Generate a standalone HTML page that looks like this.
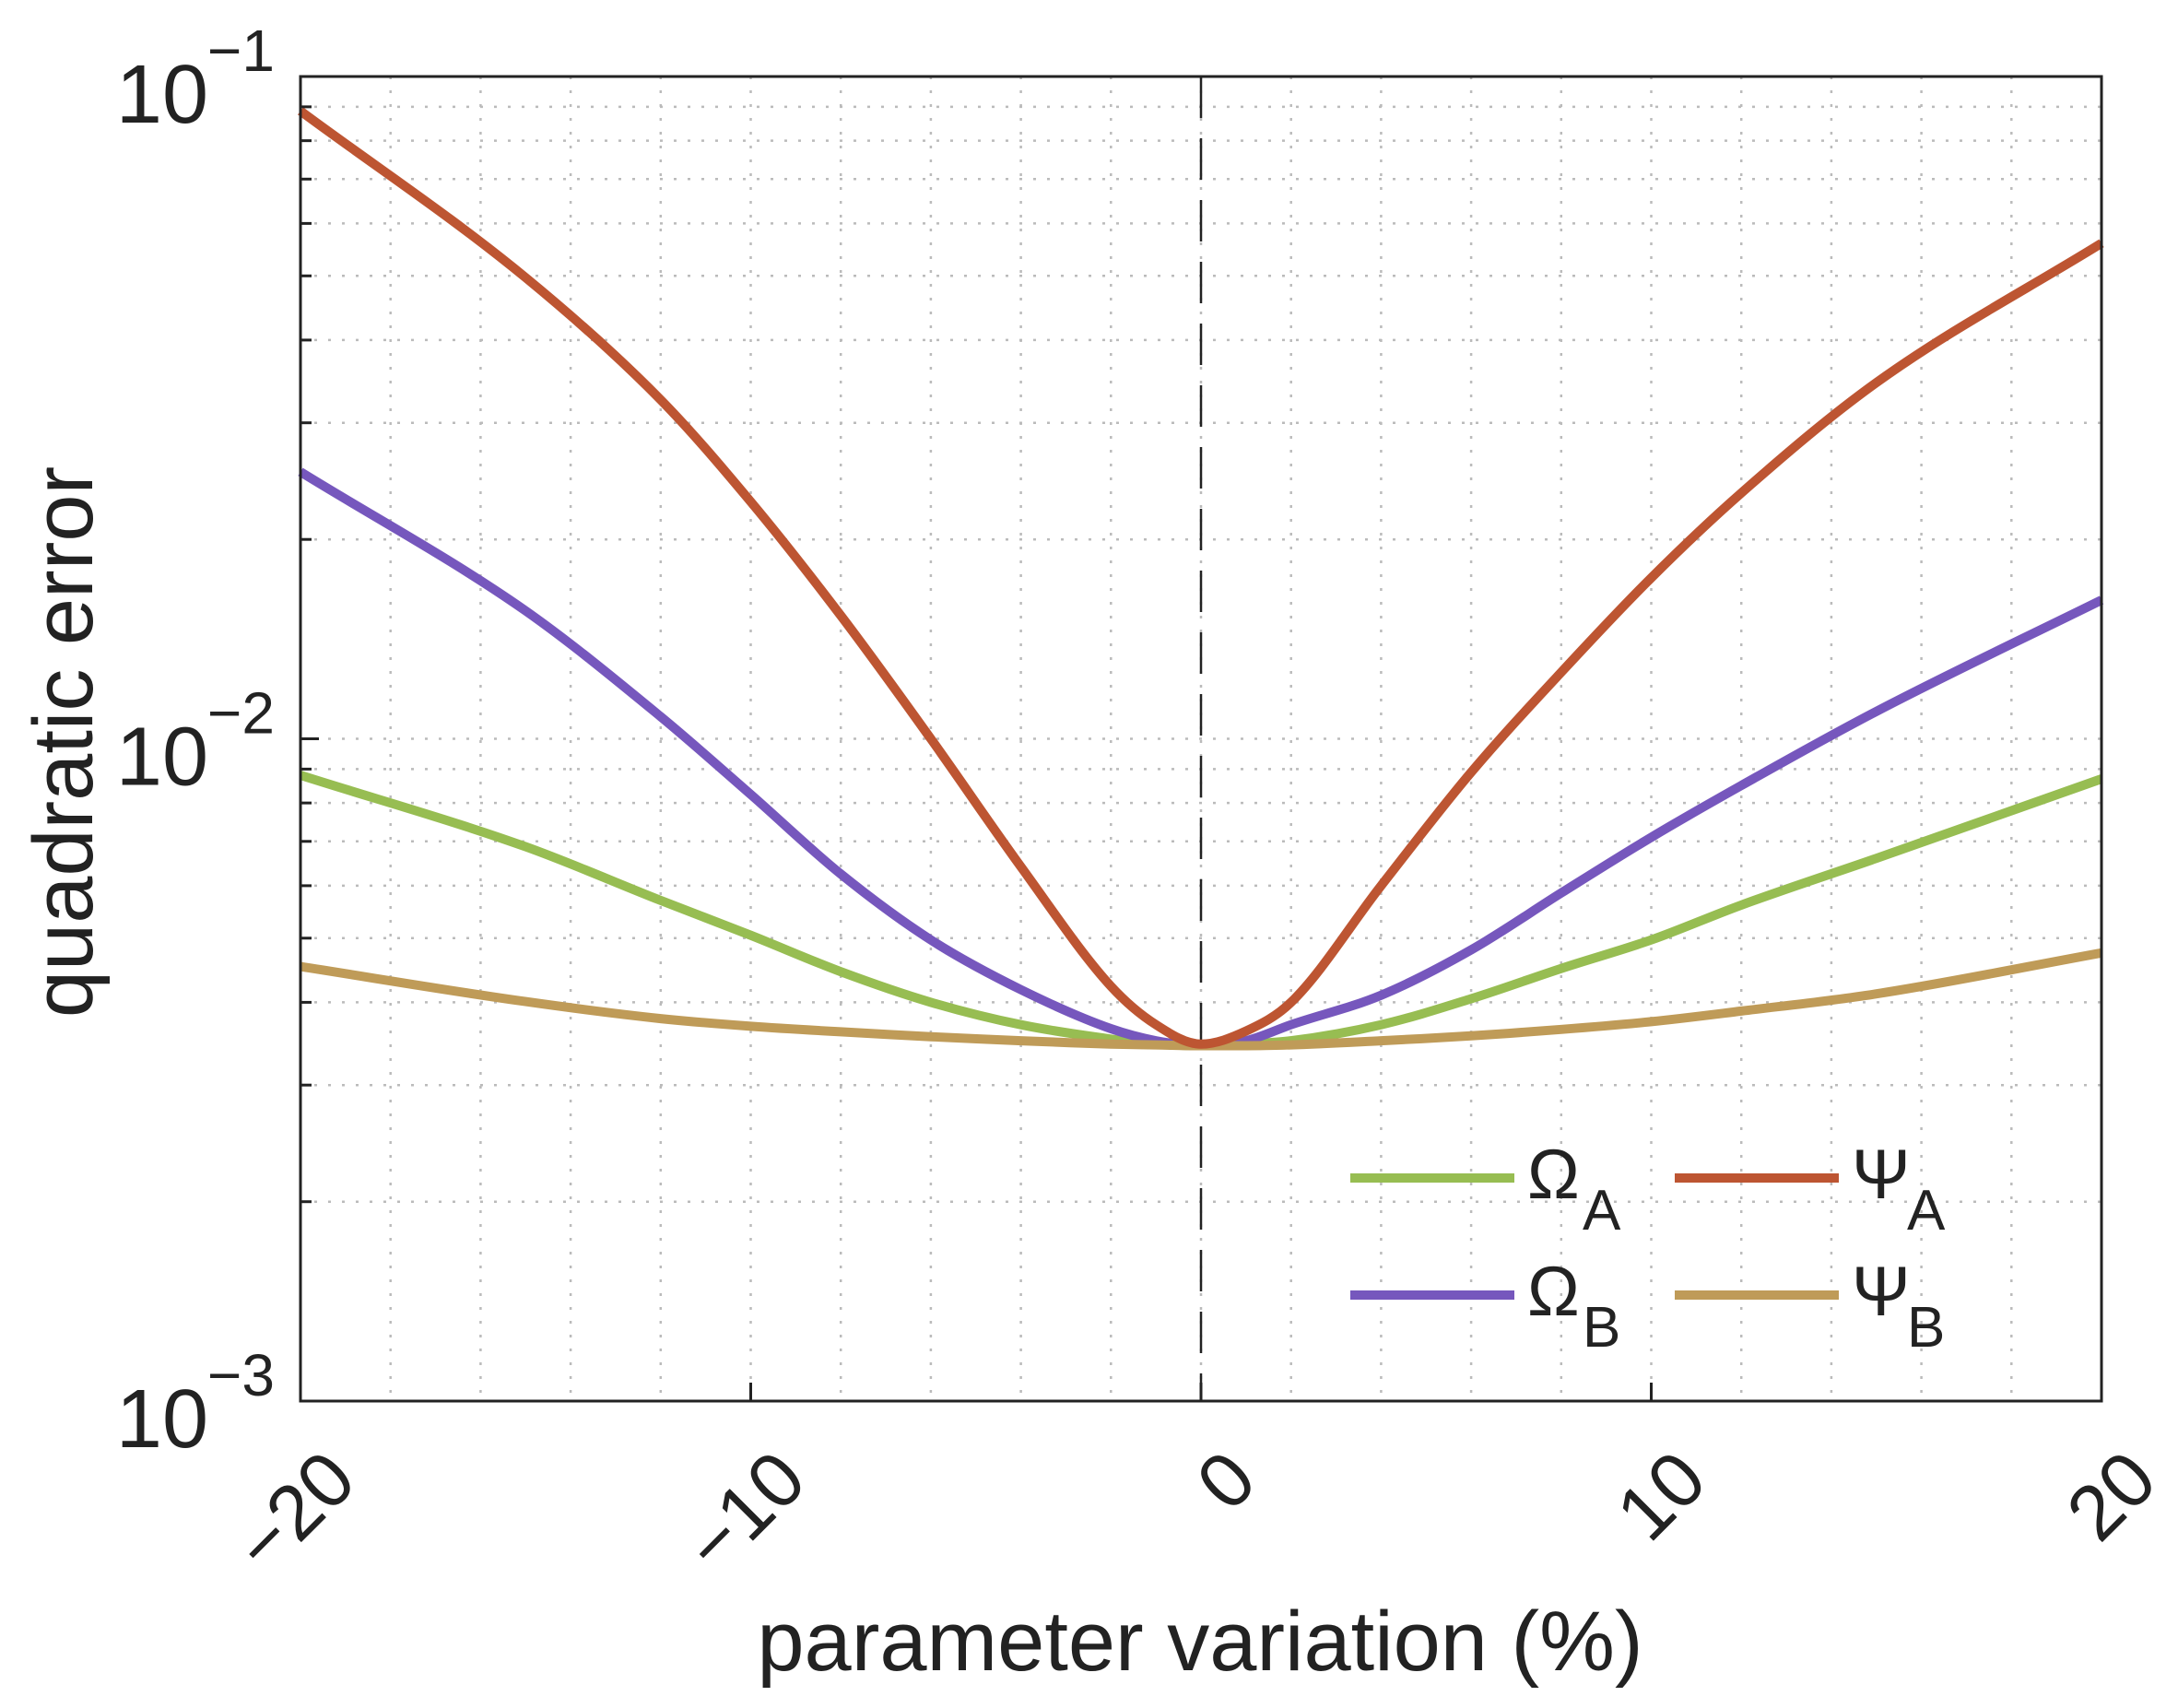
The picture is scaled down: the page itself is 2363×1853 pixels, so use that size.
<!DOCTYPE html>
<html><head><meta charset="utf-8">
<style>
html,body{margin:0;padding:0;background:#fff;}
svg{display:block;font-family:"Liberation Sans",sans-serif;}
</style></head>
<body>
<svg id="chart" width="2363" height="1853" viewBox="0 0 2363 1853" xmlns="http://www.w3.org/2000/svg">
<g id="grid"></g>
<g id="series"></g>
<g id="axes"></g>
<g id="legend"></g>
<text x="1302" y="1812" font-size="92" text-anchor="middle" fill="#222">parameter variation (%)</text>
<text transform="translate(100,805) rotate(-90)" font-size="92" text-anchor="middle" fill="#222">quadratic error</text>
</svg>
<script>
const xValues = [-20,-15,-12,-10,-8,-6,-4,-2,-1,0,1,2,4,6,8,10,12,15,20];
const omegaA = [0.00881,0.00687,0.00570,0.00505,0.00445,0.00400,0.00370,0.00352,0.00346,0.00344,0.00346,0.00350,0.00370,0.00405,0.00450,0.00497,0.00561,0.00660,0.00870];
const omegaB = [0.0253,0.0156,0.0108,0.00824,0.00625,0.00497,0.00418,0.00365,0.00350,0.00344,0.00350,0.00370,0.00410,0.00480,0.00585,0.00710,0.00850,0.01100,0.0162];
const psiA = [0.0887,0.0497,0.0325,0.0228,0.01535,0.0100,0.00641,0.00423,0.00370,0.00346,0.00362,0.00400,0.00600,0.00890,0.01260,0.0175,0.0235,0.0345,0.056];
const psiB = [0.00453,0.00401,0.00378,0.00368,0.00361,0.00355,0.00350,0.00346,0.00345,0.00344,0.00344,0.00345,0.00350,0.00356,0.00364,0.00374,0.00388,0.00412,0.00475];
const xTicks = [-20,-10,0,10,20];
const xTickLabels = ["\u221220","\u221210","0","10","20"];
const yTicks = [-1,-2,-3];

const L=326,R=2280,T=83,B=1520;
const NS="http://www.w3.org/2000/svg";
function xs(v){return L+(v+20)/40*(R-L);}
function ys(v){return T+(-1-Math.log10(v))/2*(B-T);}
function mk(tag,attrs,parent){const e=document.createElementNS(NS,tag);for(const k in attrs)e.setAttribute(k,attrs[k]);parent.appendChild(e);return e;}
const grid=document.getElementById('grid'),axes=document.getElementById('axes'),series=document.getElementById('series'),legend=document.getElementById('legend');

for(let v=-18;v<20;v+=2){
  const g=mk('line',{x1:xs(v),x2:xs(v),y1:T,y2:B,stroke:'#bbb','stroke-width':2.5,'stroke-dasharray':'3 12'},grid);
  
  
}
for(let d=-3;d<=-2;d++){
  for(let m=1;m<=9;m++){
    const v=m*Math.pow(10,d);
    if(v<=0.001) continue;
    const y=ys(v);
    const g=mk('line',{x1:L,x2:R,y1:y,y2:y,stroke:'#bbb','stroke-width':2.5,'stroke-dasharray':'3 12'},grid);
    
    
    const t=mk('line',{x1:L,x2:L+12,y1:y,y2:y,stroke:'#222','stroke-width':3},axes);
    
    
  }
}
const zl=mk('line',{x1:xs(0),x2:xs(0),y1:T,y2:B,stroke:'#222','stroke-width':2.5,'stroke-dasharray':'45 22'},grid);



function smoothPath(pts){
  const n=pts.length,m=[];
  for(let i=0;i<n;i++){
    if(i===0) m.push((pts[1][1]-pts[0][1])/(pts[1][0]-pts[0][0]));
    else if(i===n-1) m.push((pts[n-1][1]-pts[n-2][1])/(pts[n-1][0]-pts[n-2][0]));
    else {
      const s0=(pts[i][1]-pts[i-1][1])/(pts[i][0]-pts[i-1][0]);
      const s1=(pts[i+1][1]-pts[i][1])/(pts[i+1][0]-pts[i][0]);
      m.push(s0*s1<=0?0:(s0+s1)/2);
    }
  }
  let d='M'+pts[0][0].toFixed(1)+','+pts[0][1].toFixed(1);
  for(let i=0;i<n-1;i++){
    const dx=(pts[i+1][0]-pts[i][0])/3;
    d+=' C'+(pts[i][0]+dx).toFixed(1)+','+(pts[i][1]+m[i]*dx).toFixed(1)+' '+(pts[i+1][0]-dx).toFixed(1)+','+(pts[i+1][1]-m[i+1]*dx).toFixed(1)+' '+pts[i+1][0].toFixed(1)+','+pts[i+1][1].toFixed(1);
  }
  return d;
}
const seriesList=[[omegaA,'#97bd52','omega-a-line'],[omegaB,'#7657bd','omega-b-line'],[psiB,'#bf9b58','psi-b-line'],[psiA,'#bd5532','psi-a-line']];
seriesList.forEach(s=>{
  const pts=xValues.map((x,i)=>[xs(x),ys(s[0][i])]);
  const p=mk('path',{d:smoothPath(pts),fill:'none',stroke:s[1],'stroke-width':10,'stroke-linejoin':'round'},series);
  
  
});

const fr=mk('rect',{x:L,y:T,width:R-L,height:B-T,fill:'none',stroke:'#222','stroke-width':3},axes);



xTicks.forEach((v,i)=>{
  const t=mk('line',{x1:xs(v),x2:xs(v),y1:B,y2:B-20,stroke:'#222','stroke-width':3},axes);
  
  
  const lx=xs(v)+64,ly=1610;
  const tx=mk('text',{x:lx,y:ly,'font-size':84,'text-anchor':'end',fill:'#222',transform:`rotate(-45 ${lx} ${ly})`},axes);
  tx.textContent=xTickLabels[i];
  
  
});
yTicks.forEach(p=>{
  const y=ys(Math.pow(10,p));
  const t=mk('line',{x1:L,x2:L+20,y1:y,y2:y,stroke:'#222','stroke-width':3},axes);
  
  
  const tx=mk('text',{x:226,y:y+50,'font-size':90,'text-anchor':'end',fill:'#222'},axes);
  tx.textContent='10';
  
  
  const sp=mk('text',{x:298,y:y-6,'font-size':64,'text-anchor':'end',fill:'#222'},axes);
  sp.textContent='\u2212'+(-p);
  
  
});

const legItems=[['\u03A9','A','#97bd52',1465,1278],['\u03A9','B','#7657bd',1465,1405],['\u03A8','A','#bd5532',1817,1278],['\u03A8','B','#bf9b58',1817,1405]];
legItems.forEach(it=>{
  const g=mk('g',{},legend);
  
  
  mk('line',{x1:it[3],x2:it[3]+178,y1:it[4],y2:it[4],stroke:it[2],'stroke-width':10},g);
  const t=mk('text',{x:it[3]+192,y:it[4]+22,'font-size':76,fill:'#222'},g);
  t.textContent=it[0];
  const s=mk('text',{x:it[3]+252,y:it[4]+56,'font-size':62,fill:'#222'},g);
  s.textContent=it[1];
});
</script>
</body></html>
